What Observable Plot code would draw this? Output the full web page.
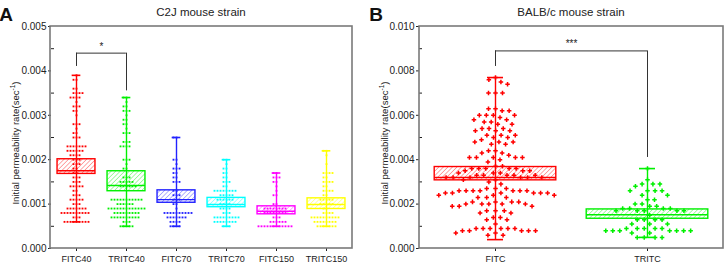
<!DOCTYPE html>
<html><head><meta charset="utf-8">
<script src="https://cdn.jsdelivr.net/npm/d3@7"></script>
<script src="https://cdn.jsdelivr.net/npm/@observablehq/plot@0.6"></script>
<style>
body{margin:0;background:#fff;font-family:"Liberation Sans",Arial,sans-serif;}
#wrap{display:flex;width:726px;height:265px;overflow:hidden;}
#wrap svg{display:block;}
</style></head><body><div id="wrap"></div>
<script>
// ---------- Panel A data (C2J mouse strain) ----------
const catsA = ["FITC40","TRITC40","FITC70","TRITC70","FITC150","TRITC150"];
const colorsA = ["#ff0000","#00f000","#2222ff","#00ffff","#ff00ff","#ffff00"];
const minA = [0.0006,0.0005,0.0005,0.0005,0.0005,0.0005];
const q1A  = [0.00168,0.00129,0.00103,0.00093,0.00077,0.00089];
const medA = [0.00175,0.00142,0.00110,0.00099,0.00084,0.00099];
const q3A  = [0.00201,0.00174,0.00131,0.00114,0.00095,0.00113];
const maxA = [0.0039,0.0034,0.0025,0.0020,0.0017,0.0022];
// [value, number of dots at that value]
const rowsFITC40 = [[0.0039,1],[0.0038,2],[0.0036,2],[0.0035,4],[0.0034,4],[0.0033,1],[0.0032,3],[0.0031,2],[0.0030,1],[0.0028,3],[0.0027,1],[0.0026,2],[0.0025,3],[0.0023,7],[0.0022,6],[0.0021,4],[0.0020,3],[0.0019,3],[0.0018,2],[0.0017,2],[0.0016,3],[0.0015,3],[0.0014,5],[0.0013,2],[0.0012,3],[0.0011,5],[0.0010,3],[0.0009,7],[0.0008,10],[0.0007,3],[0.0006,9]];
const rowsTRITC40 = [[0.0034,2],[0.0033,1],[0.0032,2],[0.0031,3],[0.0030,1],[0.0029,2],[0.0028,2],[0.0027,1],[0.0026,3],[0.0024,3],[0.0023,4],[0.0020,3],[0.0019,1],[0.0018,2],[0.0016,3],[0.0015,5],[0.0014,6],[0.0011,11],[0.0010,6],[0.0009,13],[0.0008,9],[0.0007,10],[0.0006,3],[0.0005,5]];
const rowsFITC70 = [[0.0025,2],[0.0020,2],[0.0019,1],[0.0018,3],[0.0017,2],[0.0016,2],[0.0015,3],[0.0013,2],[0.0012,3],[0.0011,3],[0.0010,2],[0.0009,1],[0.0008,10],[0.0007,7],[0.0006,4],[0.0005,4]];
const rowsTRITC70 = [[0.0020,2],[0.0019,1],[0.0018,2],[0.0017,2],[0.0016,2],[0.0015,3],[0.0014,2],[0.0013,8],[0.0012,5],[0.0011,6],[0.0010,4],[0.0009,4],[0.0008,3],[0.0007,9],[0.0006,8],[0.0005,3]];
const rowsFITC150 = [[0.0017,2],[0.0016,3],[0.0015,2],[0.0014,1],[0.0013,1],[0.0012,2],[0.0010,2],[0.0009,8],[0.0008,8],[0.0007,3],[0.0006,6],[0.0005,12]];
const rowsTRITC150 = [[0.0022,2],[0.0021,1],[0.0019,1],[0.0017,4],[0.0016,2],[0.0015,4],[0.0014,2],[0.0013,4],[0.0012,2],[0.0011,5],[0.0010,5],[0.0009,2],[0.0008,4],[0.0007,10],[0.0006,8],[0.0005,7]];
const yTicksA = [0,0.001,0.002,0.003,0.004,0.005];
const yMinorA = [0.0005,0.0015,0.0025,0.0035,0.0045];
const bracketA = {from:"FITC40", to:"TRITC40", top:0.0044, leftEnd:0.0041, rightEnd:0.00355, label:"*", labelY:0.00455};

// ---------- Panel B data (BALB/c mouse strain) ----------
const catsB = ["FITC","TRITC"];
const colorsB = ["#ff0000","#00f000"];
const minB = [0.0004,0.0005];
const q1B  = [0.00307,0.00134];
const medB = [0.00320,0.00152];
const q3B  = [0.00367,0.00176];
const maxB = [0.0077,0.0036];
const valuesFITC = [0.0077,0.0076,0.0075,0.0074,0.0070,0.0070,0.0070,0.0063,0.0063,0.0062,0.0062,0.0060,0.0060,0.0060,0.0060,0.0059,0.0058,0.0058,0.0057,0.0057,0.0056,0.0056,0.0054,0.0054,0.0054,0.0053,0.0053,0.0053,0.0051,0.0051,0.0051,0.0050,0.0050,0.0049,0.0048,0.0048,0.0048,0.0047,0.0047,0.0044,0.0044,0.0043,0.0043,0.0042,0.0041,0.0041,0.0041,0.0041,0.0041,0.0040,0.0039,0.0037,0.0037,0.0036,0.0036,0.0036,0.0036,0.0036,0.0035,0.0035,0.0035,0.0034,0.0034,0.0034,0.0033,0.0033,0.0033,0.0033,0.0033,0.0032,0.0032,0.0032,0.0032,0.0032,0.0032,0.0031,0.0031,0.0030,0.0029,0.0027,0.0027,0.0027,0.0026,0.0026,0.0026,0.0026,0.0026,0.0026,0.0026,0.0025,0.0025,0.0025,0.0025,0.0025,0.0025,0.0024,0.0024,0.0024,0.0023,0.0023,0.0023,0.0021,0.0021,0.0021,0.0021,0.0020,0.0020,0.0020,0.0020,0.0020,0.0019,0.0019,0.0019,0.0017,0.0017,0.0017,0.0016,0.0016,0.0014,0.0014,0.0013,0.0013,0.0011,0.0009,0.0009,0.0009,0.0009,0.0009,0.0009,0.0008,0.0008,0.0008,0.0008,0.0008,0.0007,0.0007,0.0006,0.0006];
const valuesTRITC = [0.0036,0.0031,0.0029,0.0029,0.0029,0.0028,0.0026,0.0026,0.0026,0.0026,0.0024,0.0024,0.0022,0.0022,0.0020,0.0020,0.0019,0.0019,0.0018,0.0018,0.0018,0.0018,0.0017,0.0017,0.0017,0.0017,0.0017,0.0015,0.0013,0.0013,0.0013,0.0013,0.0011,0.0011,0.0011,0.0009,0.0009,0.0009,0.0009,0.0009,0.0008,0.0008,0.0008,0.0008,0.0008,0.0008,0.0008,0.0007,0.0007,0.0005,0.0005,0.0005,0.0005];
const yTicksB = [0,0.002,0.004,0.006,0.008,0.010];
const yMinorB = [0.001,0.003,0.005,0.007,0.009];
const bracketB = {from:"FITC", to:"TRITC", top:0.0089, leftEnd:0.0082, rightEnd:0.0041, label:"***", labelY:0.0092};

const expand = rows => rows.flatMap(([v, n]) => Array.from({length: n}, () => v));

function drawPanel(cfg) {
  const {id, cats, colors, mins, q1s, meds, q3s, maxs, points, yMax, yTicks, yMinor,
    width, marginLeft, marginRight, dotR, dotPad, symbol, boxFrac, capHalf, bracket,
    title, letter, ylabelX} = cfg;
  const height = 265, marginTop = 26, marginBottom = 17;
  const bw = (width - marginLeft - marginRight) / cats.length;
  const boxInset = bw * (1 - boxFrac) / 2;
  const capInset = bw / 2 - capHalf;
  const stats = cats.map((c, i) => ({cat: c, min: mins[i], q1: q1s[i], med: meds[i], q3: q3s[i], max: maxs[i]}));
  const marks = [];
  cats.forEach((c, i) => {
    const s = [stats[i]];
    const col = colors[i];
    marks.push(Plot.rect(s, {fx: "cat", y1: "q1", y2: "q3", fill: `url(#${id}h${i})`, stroke: col, strokeWidth: 1.4, insetLeft: boxInset, insetRight: boxInset}));
    marks.push(Plot.tickY(s, {fx: "cat", y: "med", stroke: col, strokeWidth: 1.4, insetLeft: boxInset, insetRight: boxInset}));
    marks.push(Plot.ruleX(s, {fx: "cat", x: null, y1: "min", y2: "max", stroke: col, strokeWidth: 1.4}));
    marks.push(Plot.tickY(s, {fx: "cat", y: "min", stroke: col, strokeWidth: 1.6, insetLeft: capInset, insetRight: capInset}));
    marks.push(Plot.tickY(s, {fx: "cat", y: "max", stroke: col, strokeWidth: 1.6, insetLeft: capInset, insetRight: capInset}));
    marks.push(Plot.dot(points[i].map(v => ({cat: c, v})),
      Plot.dodgeX({anchor: "middle", padding: dotPad}, {fx: "cat", y: "v", r: dotR, fill: col, symbol})));
  });
  // significance bracket
  marks.push(Plot.ruleX([{cat: bracket.from, a: bracket.leftEnd, b: bracket.top}], {fx: "cat", x: null, y1: "a", y2: "b", stroke: "#333", strokeWidth: 1}));
  marks.push(Plot.ruleX([{cat: bracket.to, a: bracket.rightEnd, b: bracket.top}], {fx: "cat", x: null, y1: "a", y2: "b", stroke: "#333", strokeWidth: 1}));
  marks.push(Plot.ruleY([{cat: bracket.from, y: bracket.top}], {fx: "cat", y: "y", stroke: "#333", strokeWidth: 1, insetLeft: bw / 2}));
  marks.push(Plot.ruleY([{cat: bracket.to, y: bracket.top}], {fx: "cat", y: "y", stroke: "#333", strokeWidth: 1, insetRight: bw / 2}));
  marks.push(Plot.text([{cat: bracket.from, y: bracket.labelY, t: bracket.label}], {fx: "cat", y: "y", text: "t", frameAnchor: "right", textAnchor: "middle", fontSize: 10, fill: "#222"}));

  const plot = Plot.plot({
    width, height, marginLeft, marginRight, marginTop, marginBottom,
    fx: {domain: cats, padding: 0, label: null},
    y: {domain: [0, yMax], label: null},
    style: {fontFamily: "'Liberation Sans', Arial, sans-serif", background: "white", color: "#222", overflow: "visible"},
    marks: [
      Plot.axisY({ticks: yTicks, tickFormat: d3.format(".3f"), tickSize: 3, tickPadding: 2, fontSize: 10, label: null}),
      Plot.axisY({ticks: yMinor, tickSize: -3, tickFormat: () => "", label: null}),
      Plot.axisFx({anchor: "bottom", tickSize: 3, tickPadding: 4, fontSize: 9, label: null}),
      ...marks
    ]
  });

  const svg = d3.select(plot);
  const defs = svg.insert("defs", ":first-child");
  colors.forEach((col, i) => {
    const p = defs.append("pattern").attr("id", `${id}h${i}`).attr("patternUnits", "userSpaceOnUse")
      .attr("width", 3.2).attr("height", 3.2).attr("patternTransform", "rotate(45)");
    p.append("rect").attr("width", 3.2).attr("height", 3.2).attr("fill", "white");
    p.append("line").attr("x1", 0).attr("y1", 0).attr("x2", 0).attr("y2", 3.2)
      .attr("stroke", col).attr("stroke-width", 0.9).attr("stroke-opacity", 0.75);
  });
  // frame
  const fxR = plot.scale("fx") ? plot.scale("fx").range : [marginLeft, width - marginRight];
  const yR = plot.scale("y").range;
  svg.append("rect").attr("x", Math.min(...fxR)).attr("y", Math.min(...yR))
    .attr("width", Math.abs(fxR[1] - fxR[0])).attr("height", Math.abs(yR[0] - yR[1]))
    .attr("fill", "none").attr("stroke", "#7a7a7a").attr("stroke-width", 1.6);
  const cx = (fxR[0] + fxR[1]) / 2;
  svg.append("text").attr("x", cx).attr("y", 16).attr("text-anchor", "middle")
    .attr("font-size", 11.5).attr("fill", "#222").text(title);
  svg.append("text").attr("x", 6).attr("y", 21).attr("font-size", 19).attr("font-weight", "bold")
    .attr("fill", "#111").text(letter);
  const t = svg.append("text").attr("transform", `translate(${ylabelX},143) rotate(-90)`)
    .attr("text-anchor", "middle").attr("font-size", 9.6).attr("fill", "#222");
  t.append("tspan").text("Initial permeability rate(sec");
  t.append("tspan").attr("dy", -4).attr("font-size", 6.5).text("-1");
  t.append("tspan").attr("dy", 4).text(")");
  return plot;
}

const wrap = document.getElementById("wrap");
wrap.append(drawPanel({
  id: "A", cats: catsA, colors: colorsA, mins: minA, q1s: q1A, meds: medA, q3s: q3A, maxs: maxA,
  points: [rowsFITC40, rowsTRITC40, rowsFITC70, rowsTRITC70, rowsFITC150, rowsTRITC150].map(expand),
  yMax: 0.005, yTicks: yTicksA, yMinor: yMinorA,
  width: 370, marginLeft: 50, marginRight: 18, dotR: 1.05, dotPad: 0.9, symbol: "square",
  boxFrac: 0.76, capHalf: 4.5, bracket: bracketA, title: "C2J mouse strain", letter: "A", ylabelX: 18.5
}));
wrap.append(drawPanel({
  id: "B", cats: catsB, colors: colorsB, mins: minB, q1s: q1B, meds: medB, q3s: q3B, maxs: maxB,
  points: [valuesFITC, valuesTRITC],
  yMax: 0.010, yTicks: yTicksB, yMinor: yMinorB,
  width: 356, marginLeft: 49, marginRight: 3, dotR: 1.9, dotPad: 3.2, symbol: "cross",
  boxFrac: 0.8, capHalf: 8, bracket: bracketB, title: "BALB/c mouse strain", letter: "B", ylabelX: 17.5
}));
</script></body></html>
